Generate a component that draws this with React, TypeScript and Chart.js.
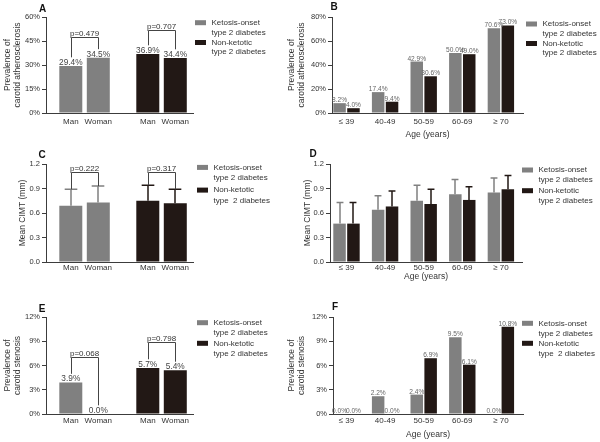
import React, { useEffect, useRef } from 'react';
import { Chart, registerables } from 'chart.js';

Chart.register(...registerables);

const FONT = "'Liberation Sans', Arial, Helvetica, sans-serif";
const GREY = '#808080';
const BLACK = '#221815';
const AXIS = '#3c3c3c';
const TEXT = '#333333';

Chart.defaults.font.family = FONT;
Chart.defaults.color = TEXT;

// ---------- categories / tick labels ----------
const sexLabels = ['Man', 'Woman', 'Man', 'Woman'];
const sexSlots = [1, 2, 3.8, 4.8];
const ageLabels = ['≤ 39', '40-49', '50-59', '60-69', '≥ 70'];
const ageSlots = [0, 1, 2, 3, 4];
const seriesKetosis = ['Ketosis-onset', 'type 2 diabetes'];
const seriesNonKetotic = ['Non-ketotic', 'type 2 diabetes'];
const seriesNonKetoticAlt = ['Non-ketotic', 'type  2 diabetes'];

// ---------- A: prevalence of carotid atherosclerosis by sex ----------
const atheroSexKetosis = [29.4, 34.5];
const atheroSexNonKetotic = [36.9, 34.4];
const atheroSexP = ['p=0.479', 'p=0.707'];

// ---------- B: prevalence of carotid atherosclerosis by age ----------
const atheroAgeKetosis = [8.2, 17.4, 42.9, 50.0, 70.6];
const atheroAgeNonKetotic = [4.0, 9.4, 30.6, 49.0, 73.0];

// ---------- C: mean CIMT by sex ----------
const cimtSexKetosis = [0.69, 0.73];
const cimtSexKetosisSD = [0.2, 0.2];
const cimtSexNonKetotic = [0.75, 0.72];
const cimtSexNonKetoticSD = [0.19, 0.17];
const cimtSexP = ['p=0.222', 'p=0.317'];

// ---------- D: mean CIMT by age ----------
const cimtAgeKetosis = [0.47, 0.64, 0.75, 0.83, 0.85];
const cimtAgeKetosisSD = [0.26, 0.17, 0.19, 0.18, 0.18];
const cimtAgeNonKetotic = [0.47, 0.68, 0.71, 0.76, 0.89];
const cimtAgeNonKetoticSD = [0.26, 0.19, 0.18, 0.16, 0.17];

// ---------- E: prevalence of carotid stenosis by sex ----------
const stenosisSexKetosis = [3.9, 0.0];
const stenosisSexNonKetotic = [5.7, 5.4];
const stenosisSexP = ['p=0.068', 'p=0.798'];

// ---------- F: prevalence of carotid stenosis by age ----------
const stenosisAgeKetosis = [0.0, 2.2, 2.4, 9.5, 0.0];
const stenosisAgeNonKetotic = [0.0, 0.0, 6.9, 6.1, 10.8];

const pct = (v: number) => `${v}%`;
const mm = (v: number) => Number(v).toFixed(1);
const pct1 = (v: number) => `${v.toFixed(1)}%`;

type Panel = {
  key: string;
  letter: string;
  rect: number[]; // left, top, width, height
  area: number[]; // left, top, right, bottom
  kind: 'sex' | 'age';
  ketosis: number[];
  nonKetotic: number[];
  ketosisSD?: number[];
  nonKetoticSD?: number[];
  yMax: number;
  yStep: number;
  yFmt: (v: number) => string;
  yTitle: string | string[];
  yTitlePad: number;
  xMin: number;
  xMax: number;
  xTickPad: number;
  xTitlePad?: number;
  valueLabel?: { size: number; color: string };
  p?: string[];
  pLevel?: number[];
  legendNon: string[];
  legend: { dx: number; dy: number; line: number; gap: number };
  letterAt: number[];
};

const panels: Panel[] = [
  {
    key: 'A', letter: 'A', rect: [0, 0, 285, 146], area: [46, 17, 193, 113], kind: 'sex',
    ketosis: atheroSexKetosis, nonKetotic: atheroSexNonKetotic,
    yMax: 60, yStep: 15, yFmt: pct,
    yTitle: ['Prevalence of', 'carotid atherosclerosis'], yTitlePad: 3,
    xMin: 0.098, xMax: 5.444, xTickPad: 4.2,
    valueLabel: { size: 8.3, color: '#444' },
    p: atheroSexP, pLevel: [47.4, 51.7],
    legendNon: seriesNonKetotic, legend: { dx: 2, dy: 5.7, line: 9.7, gap: 19.8 },
    letterAt: [-3.5, -8],
  },
  {
    key: 'B', letter: 'B', rect: [283, 0, 317, 146], area: [332, 17, 523, 113], kind: 'age',
    ketosis: atheroAgeKetosis, nonKetotic: atheroAgeNonKetotic,
    yMax: 80, yStep: 20, yFmt: pct,
    yTitle: ['Prevalence of', 'carotid atherosclerosis'], yTitlePad: 4,
    xMin: -0.376, xMax: 4.573, xTickPad: 4.2, xTitlePad: 6,
    valueLabel: { size: 6.6, color: '#666' },
    legendNon: seriesNonKetotic, legend: { dx: 3, dy: 7, line: 9.5, gap: 19.5 },
    letterAt: [2, -9.5],
  },
  {
    key: 'C', letter: 'C', rect: [0, 146, 285, 146], area: [46, 164, 193, 262], kind: 'sex',
    ketosis: cimtSexKetosis, nonKetotic: cimtSexNonKetotic,
    ketosisSD: cimtSexKetosisSD, nonKetoticSD: cimtSexNonKetoticSD,
    yMax: 1.2, yStep: 0.3, yFmt: mm,
    yTitle: 'Mean CIMT (mm)', yTitlePad: 18,
    xMin: 0.098, xMax: 5.444, xTickPad: 1,
    p: cimtSexP, pLevel: [1.098, 1.098],
    legendNon: seriesNonKetoticAlt, legend: { dx: 4, dy: 3.4, line: 10.3, gap: 22.7 },
    letterAt: [-4, -8.7],
  },
  {
    key: 'D', letter: 'D', rect: [283, 146, 317, 146], area: [330, 164, 522, 262], kind: 'age',
    ketosis: cimtAgeKetosis, nonKetotic: cimtAgeNonKetotic,
    ketosisSD: cimtAgeKetosisSD, nonKetoticSD: cimtAgeNonKetoticSD,
    yMax: 1.2, yStep: 0.3, yFmt: mm,
    yTitle: 'Mean CIMT (mm)', yTitlePad: 20,
    xMin: -0.427, xMax: 4.547, xTickPad: 1, xTitlePad: 10.3,
    legendNon: seriesNonKetotic, legend: { dx: 0, dy: 6, line: 10, gap: 20.7 },
    letterAt: [-17, -10],
  },
  {
    key: 'E', letter: 'E', rect: [0, 292, 285, 150], area: [46, 317, 193, 414], kind: 'sex',
    ketosis: stenosisSexKetosis, nonKetotic: stenosisSexNonKetotic,
    yMax: 12, yStep: 3, yFmt: pct,
    yTitle: ['Prevalence of', 'carotid stenosis'], yTitlePad: 3,
    xMin: 0.098, xMax: 5.444, xTickPad: 2.2,
    valueLabel: { size: 8.3, color: '#444' },
    p: stenosisSexP, pLevel: [7.09, 8.95],
    legendNon: seriesNonKetotic, legend: { dx: 4, dy: 5.7, line: 10.5, gap: 20.6 },
    letterAt: [-4, -8],
  },
  {
    key: 'F', letter: 'F', rect: [283, 292, 317, 150], area: [333, 317, 523, 414], kind: 'age',
    ketosis: stenosisAgeKetosis, nonKetotic: stenosisAgeNonKetotic,
    yMax: 12, yStep: 3, yFmt: pct,
    yTitle: ['Prevalence of', 'carotid stenosis'], yTitlePad: 4,
    xMin: -0.35, xMax: 4.573, xTickPad: 2.2, xTitlePad: 2,
    valueLabel: { size: 6.6, color: '#666' },
    legendNon: seriesNonKetoticAlt, legend: { dx: -1, dy: 6.3, line: 10, gap: 20 },
    letterAt: [2, -10],
  },
];

function decorPlugin(p: Panel) {
  return {
    id: 'decor' + p.key,
    afterDatasetsDraw(chart: any) {
      const ctx: CanvasRenderingContext2D = chart.ctx;
      const a = chart.chartArea;
      const ys = chart.scales.y;
      const series = [p.ketosis, p.nonKetotic];
      const sds = [p.ketosisSD, p.nonKetoticSD];
      const colors = [GREY, BLACK];
      const caps: number[][] = [[], []];
      const tops: number[][] = [[], []];
      ctx.save();
      // error bars (upper SD)
      series.forEach((vals, di) => {
        const sd = sds[di];
        if (!sd) return;
        const meta = chart.getDatasetMeta(di);
        meta.data.forEach((bar: any, i: number) => {
          const top = ys.getPixelForValue(vals[i] + sd[i]);
          caps[di][i] = top;
          const x = Math.round(bar.x);
          const cw = bar.width * 0.55;
          ctx.strokeStyle = colors[di];
          ctx.lineWidth = 1.5;
          ctx.beginPath();
          ctx.moveTo(x, bar.y);
          ctx.lineTo(x, top);
          ctx.moveTo(x - cw / 2, top);
          ctx.lineTo(x + cw / 2, top);
          ctx.stroke();
        });
      });
      // value labels
      if (p.valueLabel) {
        const vl = p.valueLabel;
        ctx.font = `${vl.size}px ${FONT}`;
        ctx.fillStyle = vl.color;
        ctx.textAlign = 'center';
        ctx.textBaseline = 'alphabetic';
        series.forEach((vals, di) => {
          const meta = chart.getDatasetMeta(di);
          meta.data.forEach((bar: any, i: number) => {
            ctx.fillText(pct1(vals[i]), bar.x, bar.y - 1);
            tops[di][i] = bar.y - 1 - vl.size * 0.74;
          });
        });
      }
      // p-value brackets
      if (p.p && p.pLevel) {
        p.p.forEach((txt, g) => {
          const meta = chart.getDatasetMeta(g);
          const b0 = meta.data[0];
          const b1 = meta.data[1];
          const yb = Math.round(ys.getPixelForValue(p.pLevel![g])) + 0.5;
          const end = (i: number) => (sds[g] ? caps[g][i] : tops[g][i] - 1.5);
          const x0 = Math.round(b0.x) + 0.5;
          const x1 = Math.round(b1.x) + 0.5;
          ctx.strokeStyle = '#444';
          ctx.lineWidth = 1;
          ctx.beginPath();
          ctx.moveTo(x0, end(0));
          ctx.lineTo(x0, yb);
          ctx.lineTo(x1, yb);
          ctx.lineTo(x1, end(1));
          ctx.stroke();
          ctx.font = `8px ${FONT}`;
          ctx.fillStyle = TEXT;
          ctx.textAlign = 'center';
          ctx.textBaseline = 'alphabetic';
          ctx.fillText(txt, (b0.x + b1.x) / 2, yb - 2);
        });
      }
      // legend
      const lg = p.legend;
      const items = [
        { color: GREY, lines: seriesKetosis },
        { color: BLACK, lines: p.legendNon },
      ];
      const bx = a.right + lg.dx;
      items.forEach((it, k) => {
        const yc = a.top + lg.dy + k * lg.gap;
        ctx.fillStyle = it.color;
        ctx.fillRect(bx, yc - 2.5, 11, 5);
        ctx.fillStyle = TEXT;
        ctx.font = `8px ${FONT}`;
        ctx.textAlign = 'left';
        ctx.textBaseline = 'middle';
        it.lines.forEach((ln, j) => ctx.fillText(ln, bx + 16.5, yc + j * lg.line));
      });
      // panel letter
      ctx.font = `bold 10px ${FONT}`;
      ctx.fillStyle = '#111';
      ctx.textAlign = 'center';
      ctx.textBaseline = 'middle';
      ctx.fillText(p.letter, a.left + p.letterAt[0], a.top + p.letterAt[1]);
      ctx.restore();
    },
  };
}

function buildConfig(p: Panel): any {
  const [rl, rt, rw, rh] = p.rect;
  const [al, at, ar, ab] = p.area;
  const yWidth = al - rl;
  const xHeight = rt + rh - ab;
  const isSex = p.kind === 'sex';
  const slots = isSex ? sexSlots : ageSlots;
  const labels = isSex ? sexLabels : ageLabels;
  const ketPts = p.ketosis.map((v, i) => ({ x: slots[i], y: v }));
  const nonPts = p.nonKetotic.map((v, i) => ({ x: slots[isSex ? i + 2 : i], y: v }));
  const barOpts = isSex
    ? { grouped: false, barPercentage: 0.836, categoryPercentage: 1 }
    : { barPercentage: 0.9, categoryPercentage: 0.72 };
  return {
    type: 'bar',
    data: {
      datasets: [
        { label: seriesKetosis.join(' '), data: ketPts, backgroundColor: GREY, borderWidth: 0, ...barOpts },
        { label: p.legendNon.join(' '), data: nonPts, backgroundColor: BLACK, borderWidth: 0, ...barOpts },
      ],
    },
    options: {
      responsive: false,
      animation: false,
      devicePixelRatio: 1,
      events: [],
      layout: { padding: { left: 0, top: at - rt, right: rl + rw - ar, bottom: 0 } },
      plugins: { legend: { display: false }, tooltip: { enabled: false }, title: { display: false } },
      scales: {
        x: {
          type: 'linear',
          offset: false,
          min: p.xMin,
          max: p.xMax,
          grid: { display: false, drawTicks: false, offset: false },
          border: { display: true, color: AXIS, width: 1 },
          ticks: {
            autoSkip: false,
            maxRotation: 0,
            padding: p.xTickPad,
            color: TEXT,
            font: { size: 8 },
            callback: (_v: any, i: number) => labels[i],
          },
          afterBuildTicks: (s: any) => {
            s.ticks = slots.map((v) => ({ value: v }));
          },
          title: p.xTitlePad !== undefined
            ? { display: true, text: 'Age (years)', color: TEXT, font: { size: 8.5, lineHeight: 1.18 }, padding: { top: 0, bottom: p.xTitlePad } }
            : { display: false },
          afterFit: (s: any) => {
            s.height = xHeight;
          },
        },
        y: {
          min: 0,
          max: p.yMax,
          ticks: { stepSize: p.yStep, callback: (v: any) => p.yFmt(Number(v)), color: TEXT, font: { size: 7.5 }, padding: 2 },
          grid: { display: true, drawOnChartArea: false, drawTicks: true, tickLength: 4, color: AXIS, lineWidth: 1 },
          border: { display: true, color: AXIS, width: 1 },
          title: { display: true, text: p.yTitle, color: TEXT, font: { size: 8.5, lineHeight: 1.18 }, padding: { top: p.yTitlePad, bottom: 0 } },
          afterFit: (s: any) => {
            s.width = yWidth;
          },
        },
      },
    },
    plugins: [decorPlugin(p)],
  };
}

function PanelChart({ p }: { p: Panel }) {
  const ref = useRef<HTMLCanvasElement>(null);
  useEffect(() => {
    const chart = new Chart(ref.current as HTMLCanvasElement, buildConfig(p));
    return () => chart.destroy();
  }, [p]);
  const [l, t, w, h] = p.rect;
  return (
    <canvas
      ref={ref}
      width={w}
      height={h}
      style={{ position: 'absolute', left: l, top: t, width: w, height: h }}
    />
  );
}

export default function App() {
  return (
    <div style={{ position: 'absolute', left: 0, top: 0, width: 600, height: 442, background: '#ffffff', overflow: 'hidden' }}>
      {panels.map((p) => (
        <PanelChart key={p.key} p={p} />
      ))}
    </div>
  );
}
